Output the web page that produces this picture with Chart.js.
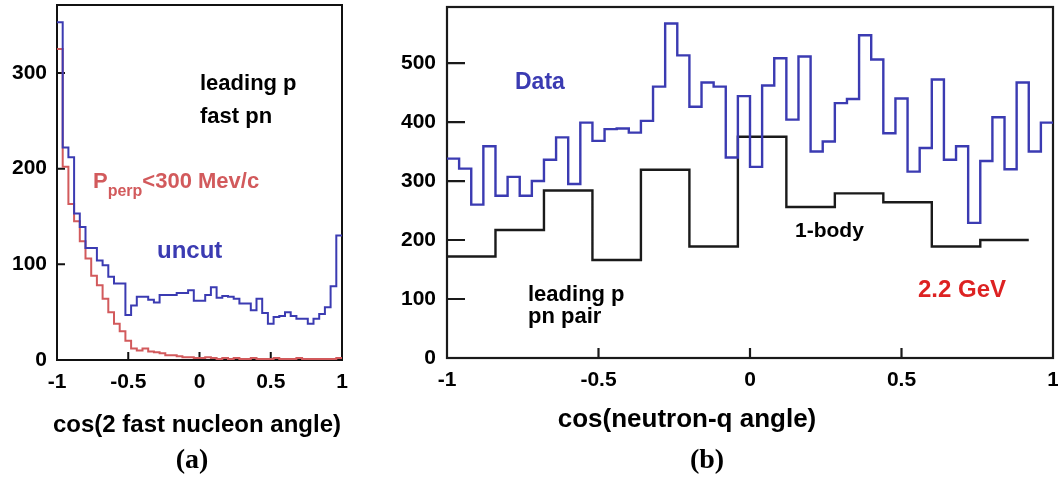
<!DOCTYPE html>
<html>
<head>
<meta charset="utf-8">
<script src="https://cdn.jsdelivr.net/npm/chart.js@4.4.0/dist/chart.umd.min.js"></script>
<style>
  html, body { margin: 0; padding: 0; background: #fff; }
  #wrap { position: relative; width: 1058px; height: 478px; overflow: hidden; }
  #cA { position: absolute; left: 0; top: 0; }
  #cB { position: absolute; left: 380px; top: 0; }
</style>
</head>
<body>
<div id="wrap">
  <canvas id="cA" width="375" height="478"></canvas>
  <canvas id="cB" width="678" height="478"></canvas>
</div>
<script>
// ---- panel (a): cos of the angle between the two fast nucleons, 50 bins on [-1, 1]
const panelAXTicks = [-1, -0.5, 0, 0.5, 1];
const panelAYTicks = [0, 100, 200, 300];
const uncutCounts = [
  353, 222, 212, 153, 139, 117, 117, 104, 99, 87,
  80, 80, 47, 57, 66, 66, 63, 60, 68, 68,
  68, 70, 70, 73, 62, 62, 68, 76, 65, 67,
  66, 64, 59, 59, 52, 64, 49, 38, 45, 46,
  50, 46, 43, 43, 38, 43, 48, 55, 77, 130
];
const perpCutCounts = [
  325, 202, 163, 145, 124, 106, 88, 78, 64, 50,
  38, 30, 20, 12, 10, 12, 9, 8, 7, 5,
  5, 4, 3, 3, 2, 2, 3, 2, 1, 2,
  1, 2, 1, 1, 2, 1, 1, 1, 2, 1,
  1, 1, 2, 1, 1, 1, 1, 1, 1, 2
];

// ---- panel (b): cos of the neutron-q angle
const panelBXTicks = [-1, -0.5, 0, 0.5, 1];
const panelBYTicks = [0, 100, 200, 300, 400, 500];
const dataCounts = [
  338, 321, 260, 359, 275, 307, 275, 300, 336, 374,
  295, 399, 368, 388, 389, 382, 402, 460, 567, 513,
  426, 467, 460, 340, 444, 324, 462, 508, 404, 511,
  350, 367, 432, 439, 547, 506, 381, 440, 316, 356,
  472, 336, 359, 229, 334, 408, 320, 467, 350, 399
];
const oneBodyCounts = [172, 217, 284, 166, 319, 189, 375, 256, 279, 264, 189, 200];

// histogram bin layout
const HIST_LO = -1;
const FINE_BIN = 0.04;
const WIDE_BIN = 0.16;

// left-edge points plus a closing point at the last right edge
function histPoints(counts, lo, width) {
  const pts = counts.map((c, i) => ({ x: lo + i * width, y: c }));
  pts.push({ x: lo + counts.length * width, y: counts[counts.length - 1] });
  return pts;
}

const BLUE = '#3b3bb2';
const RED_A = '#d25a5c';
const RED_B = '#dd2222';
const SANS = '"Liberation Sans", Arial, Helvetica, sans-serif';
const SERIF = '"Liberation Serif", "Times New Roman", serif';

// frame, inward tick marks and free text
const panelDecor = {
  id: 'panelDecor',
  beforeDatasetsDraw(chart, args, o) {
    const { ctx, chartArea: a, scales } = chart;
    ctx.save();
    ctx.strokeStyle = o.frameColor;
    ctx.lineWidth = o.frameWidth;
    ctx.strokeRect(a.left, a.top, a.right - a.left, a.bottom - a.top);
    ctx.beginPath();
    for (const v of o.xTicks) {
      const px = scales.x.getPixelForValue(v);
      if (px <= a.left + 1 || px >= a.right - 1) continue;
      ctx.moveTo(px, a.bottom);
      ctx.lineTo(px, a.bottom - o.xTickLen);
    }
    for (const v of o.yTicks) {
      const py = scales.y.getPixelForValue(v);
      if (py >= a.bottom - 1 || py <= a.top + 1) continue;
      ctx.moveTo(a.left, py);
      ctx.lineTo(a.left + o.yTickLen, py);
    }
    ctx.stroke();
    ctx.restore();
  },
  afterDraw(chart, args, o) {
    const ctx = chart.ctx;
    ctx.save();
    for (const t of o.texts) {
      ctx.fillStyle = t.color || '#000';
      ctx.textBaseline = t.baseline || 'alphabetic';
      ctx.textAlign = t.align || 'left';
      if (t.parts) {
        let x = t.x;
        for (const p of t.parts) {
          ctx.font = p.font;
          ctx.fillText(p.text, x, t.y + (p.dy || 0));
          x += ctx.measureText(p.text).width;
        }
      } else {
        ctx.font = t.font;
        ctx.fillText(t.text, t.x, t.y);
      }
    }
    ctx.restore();
  }
};

function makeScales(xTicks, yTicks, yMax, yWidth, xHeight, yPad) {
  const tickFont = { family: SANS, size: 21, weight: 'bold' };
  return {
    x: {
      type: 'linear', min: -1, max: 1,
      afterBuildTicks: s => { s.ticks = xTicks.map(v => ({ value: v })); },
      afterFit: s => { s.height = xHeight; s.paddingLeft = 0; s.paddingRight = 0; },
      ticks: { font: tickFont, color: '#000', padding: 10, autoSkip: false, maxRotation: 0,
               callback: v => String(v) },
      grid: { display: false, drawTicks: false },
      border: { display: false }
    },
    y: {
      type: 'linear', min: 0, max: yMax,
      afterBuildTicks: s => { s.ticks = yTicks.map(v => ({ value: v })); },
      afterFit: s => { s.width = yWidth; s.paddingTop = 0; s.paddingBottom = 0; },
      ticks: { font: tickFont, color: '#000', padding: yPad, autoSkip: false },
      grid: { display: false, drawTicks: false },
      border: { display: false }
    }
  };
}

function lineSet(points, color, width) {
  return {
    data: points, borderColor: color, borderWidth: width, stepped: 'before',
    pointRadius: 0, fill: false, tension: 0
  };
}

const common = {
  responsive: false, animation: false, parsing: false,
  plugins: { legend: { display: false }, tooltip: { enabled: false } }
};

// panel (a)
new Chart(document.getElementById('cA'), {
  type: 'line',
  data: {
    datasets: [
      lineSet(histPoints(uncutCounts, HIST_LO, FINE_BIN), BLUE, 2),
      lineSet(histPoints(perpCutCounts, HIST_LO, FINE_BIN), RED_A, 2)
    ]
  },
  options: {
    ...common,
    layout: { padding: { left: 0, right: 33, top: 5, bottom: 0 } },
    scales: makeScales(panelAXTicks, panelAYTicks, 371, 57, 118, 10),
    plugins: {
      ...common.plugins,
      panelDecor: {
        frameColor: '#111', frameWidth: 2, xTicks: panelAXTicks, yTicks: panelAYTicks,
        xTickLen: 8, yTickLen: 8,
        texts: [
          { text: 'leading p', x: 200, y: 90, font: `bold 22px ${SANS}` },
          { text: 'fast pn', x: 200, y: 123, font: `bold 22px ${SANS}` },
          { x: 93, y: 188, color: RED_A, parts: [
              { text: 'P', font: `bold 22px ${SANS}` },
              { text: 'perp', font: `bold 16px ${SANS}`, dy: 8 },
              { text: '<300 Mev/c', font: `bold 22px ${SANS}` } ] },
          { text: 'uncut', x: 157, y: 258, color: BLUE, font: `bold 24px ${SANS}` },
          { text: 'cos(2 fast nucleon angle)', x: 197, y: 425, align: 'center', baseline: 'middle',
            font: `bold 24px ${SANS}` },
          { text: '(a)', x: 192, y: 461, align: 'center', baseline: 'middle', font: `bold 28px ${SERIF}` }
        ]
      }
    }
  },
  plugins: [panelDecor]
});

// panel (b)
new Chart(document.getElementById('cB'), {
  type: 'line',
  data: {
    datasets: [
      lineSet(histPoints(dataCounts, HIST_LO, FINE_BIN), BLUE, 2.4),
      lineSet(histPoints(oneBodyCounts, HIST_LO, WIDE_BIN), '#1a1a1a', 2.4)
    ]
  },
  options: {
    ...common,
    layout: { padding: { left: 0, right: 5, top: 7, bottom: 0 } },
    scales: makeScales(panelBXTicks, panelBYTicks, 595, 67, 120, 11),
    plugins: {
      ...common.plugins,
      panelDecor: {
        frameColor: '#1a1a1a', frameWidth: 2.2, xTicks: panelBXTicks, yTicks: panelBYTicks,
        xTickLen: 10, yTickLen: 18,
        texts: [
          { text: 'Data', x: 135, y: 89, color: BLUE, font: `bold 23px ${SANS}` },
          { text: '1-body', x: 415, y: 237, font: `bold 21px ${SANS}` },
          { text: 'leading p', x: 148, y: 301, font: `bold 22px ${SANS}` },
          { text: 'pn pair', x: 148, y: 323, font: `bold 22px ${SANS}` },
          { text: '2.2 GeV', x: 538, y: 297, color: RED_B, font: `bold 24px ${SANS}` },
          { text: 'cos(neutron-q angle)', x: 307, y: 420, align: 'center', baseline: 'middle',
            font: `bold 26px ${SANS}` },
          { text: '(b)', x: 327, y: 461, align: 'center', baseline: 'middle', font: `bold 28px ${SERIF}` }
        ]
      }
    }
  },
  plugins: [panelDecor]
});
</script>
</body>
</html>
